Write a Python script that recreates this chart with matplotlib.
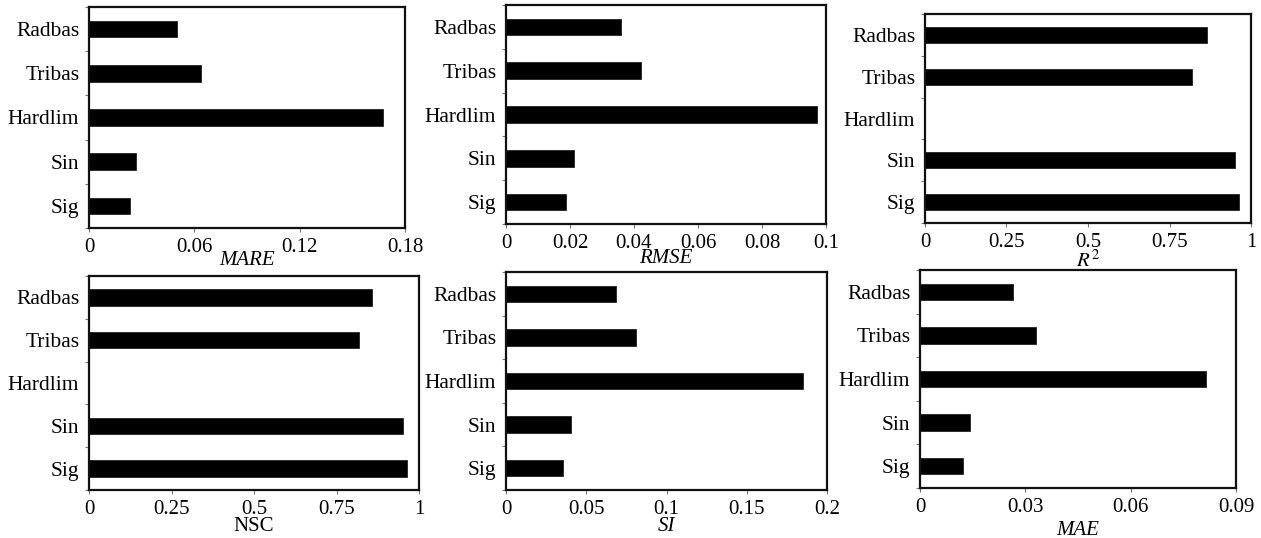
import matplotlib
matplotlib.use("Agg")
import matplotlib.pyplot as plt
from matplotlib.ticker import FixedLocator

plt.rcParams['font.family'] = ['Liberation Serif', 'DejaVu Serif']
plt.rcParams['mathtext.fontset'] = 'stix'

# Transfer functions, listed bottom to top
categories = ["Sig", "Sin", "Hardlim", "Tribas", "Radbas"]

mare = [0.0234, 0.0268, 0.1675, 0.0638, 0.0500]
rmse = [0.0187, 0.0213, 0.0971, 0.0423, 0.0358]
r2 = [0.963, 0.951, 0.0, 0.820, 0.865]
nsc = [0.964, 0.951, 0.0, 0.817, 0.859]
si = [0.0356, 0.0404, 0.185, 0.081, 0.0685]
mae = [0.0123, 0.0142, 0.0815, 0.0330, 0.0266]

mare_ticks = [0, 0.06, 0.12, 0.18]
rmse_ticks = [0, 0.02, 0.04, 0.06, 0.08, 0.1]
r2_ticks = [0, 0.25, 0.5, 0.75, 1]
nsc_ticks = [0, 0.25, 0.5, 0.75, 1]
si_ticks = [0, 0.05, 0.1, 0.15, 0.2]
mae_ticks = [0, 0.03, 0.06, 0.09]

mare_labels = ["0", "0.06", "0.12", "0.18"]
rmse_labels = ["0", "0.02", "0.04", "0.06", "0.08", "0.1"]
r2_labels = ["0", "0.25", "0.5", "0.75", "1"]
nsc_labels = ["0", "0.25", "0.5", "0.75", "1"]
si_labels = ["0", "0.05", "0.1", "0.15", "0.2"]
mae_labels = ["0", "0.03", "0.06", "0.09"]

W, H = 1261, 538
fig = plt.figure(figsize=(W / 100, H / 100), dpi=100)


def add_panel(left, bottom, right, top, values, ticks, ticklabels, xlabel,
              style, label_gap):
    ax = fig.add_axes([left / W, 1 - bottom / H, (right - left) / W,
                       (bottom - top) / H])
    ypos = list(range(len(categories)))
    ax.barh(ypos, values, height=0.38, color="black", edgecolor="#222222",
            linewidth=0.6)
    ax.set_xlim(ticks[0], ticks[-1])
    ax.set_ylim(-0.5, len(categories) - 0.5)
    ax.set_yticks(ypos)
    ax.set_yticklabels(categories, fontsize=15.5)
    ax.yaxis.set_minor_locator(FixedLocator([i - 0.5 for i in range(len(categories) + 1)]))
    ax.tick_params(axis="y", which="major", length=0, pad=7)
    ax.tick_params(axis="y", which="minor", length=3, width=0.8,
                   color="#777777", direction="out")
    ax.set_xticks(ticks)
    ax.set_xticklabels(ticklabels, fontsize=15)
    ax.tick_params(axis="x", which="major", length=3, width=0.8,
                   color="#777777", direction="out", pad=4.5)
    for sp in ax.spines.values():
        sp.set_linewidth(1.6)
        sp.set_color("#111111")
    ax.set_xlabel(xlabel, fontsize=15, fontstyle=style)
    ax.xaxis.set_label_coords(0.5, -label_gap / (bottom - top))
    return ax


add_panel(89, 228, 405, 7, mare, mare_ticks, mare_labels, "MARE", "italic", 23)
add_panel(506, 224, 826, 5, rmse, rmse_ticks, rmse_labels, "RMSE", "italic", 25)
add_panel(925, 223, 1251, 14, r2, r2_ticks, r2_labels, r"$R^2$", "normal", 27)
add_panel(89, 490, 419, 276, nsc, nsc_ticks, nsc_labels, "NSC", "normal", 27)
add_panel(506, 490, 827, 272, si, si_ticks, si_labels, "SI", "italic", 27)
add_panel(920, 488, 1236, 270, mae, mae_ticks, mae_labels, "MAE", "italic", 33)

fig.savefig("out.png", dpi=100, facecolor="white")
